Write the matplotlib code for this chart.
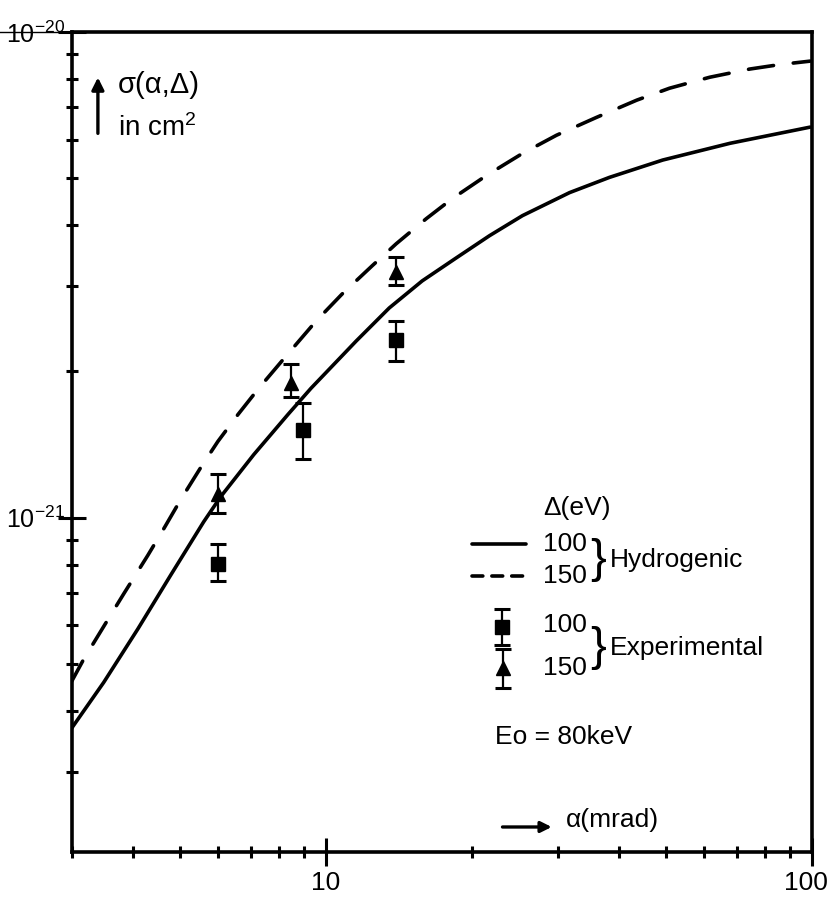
#!/usr/bin/env python3
# -*- coding: utf-8 -*-
import numpy as np
import matplotlib
matplotlib.use("Agg")
import matplotlib.pyplot as plt
import matplotlib.transforms as mtransforms
from matplotlib.ticker import LogLocator, NullFormatter

# ==================================== 数据
# 氢原子模型曲线, Δ = 100 eV (实线)
alpha_h100 = [2.98, 3.486, 4.098, 4.79, 5.60, 6.07, 7.10, 8.35, 9.31, 11.53,
              13.49, 15.77, 18.54, 21.69, 25.36, 31.7, 38.3, 49.3, 67.8, 99.1]
sigma_h100 = [3.66e-22, 4.58e-22, 5.90e-22, 7.62e-22, 9.81e-22, 1.105e-21, 1.349e-21,
              1.632e-21, 1.847e-21, 2.310e-21, 2.703e-21, 3.073e-21,
              3.428e-21, 3.807e-21, 4.187e-21, 4.67e-21, 5.02e-21, 5.45e-21,
              5.90e-21, 6.37e-21]
# 氢原子模型曲线, Δ = 150 eV (虚线)
alpha_h150 = [2.98, 3.17, 3.553, 3.833, 4.295, 4.634, 5.02, 5.525, 5.99, 6.59, 7.24,
              8.27, 9.54, 10.79, 12.44, 13.94, 16.08, 18.19, 21.38, 25.36, 29.8, 36.0,
              43.6, 50.9, 61.6, 74.5, 85.9, 99.1]
sigma_h150 = [4.56e-22, 5.11e-22, 6.16e-22, 6.97e-22, 8.36e-22, 9.49e-22, 1.089e-21,
              1.27e-21, 1.436e-21, 1.632e-21, 1.838e-21, 2.151e-21, 2.541e-21,
              2.888e-21, 3.301e-21, 3.664e-21, 4.128e-21, 4.54e-21, 5.065e-21,
              5.623e-21, 6.13e-21, 6.67e-21, 7.24e-21, 7.66e-21, 8.07e-21, 8.39e-21,
              8.57e-21, 8.71e-21]

# 实验点
alpha_exp100 = [5.99, 8.97, 13.94]
sigma_exp100 = [8.03e-22, 1.513e-21, 2.32e-21]
err_lo100 = [7.41e-22, 1.318e-21, 2.10e-21]
err_hi100 = [8.84e-22, 1.72e-21, 2.54e-21]

alpha_exp150 = [5.99, 8.47, 13.94]
sigma_exp150 = [1.121e-21, 1.89e-21, 3.21e-21]
err_lo150 = [1.023e-21, 1.77e-21, 3.01e-21]
err_hi150 = [1.233e-21, 2.07e-21, 3.44e-21]

x_ticks = [10, 100]
x_tick_labels = ['10', '100']
y_ticks = [1e-21, 1e-20]


def draw():
    plt.rcParams['font.family'] = ['Liberation Sans', 'DejaVu Sans']
    plt.rcParams['mathtext.fontset'] = 'custom'
    plt.rcParams['mathtext.rm'] = 'Liberation Sans'
    plt.rcParams['mathtext.it'] = 'Liberation Sans:italic'
    plt.rcParams['axes.unicode_minus'] = False

    fig = plt.figure(figsize=(8.31, 8.97), dpi=100)
    ax = fig.add_axes([72 / 831, 45 / 897, 740 / 831, 820 / 897])

    # 曲线
    ax.plot(alpha_h100, sigma_h100, color='black', lw=2.6, solid_capstyle='round',
            solid_joinstyle='round')
    ax.plot(alpha_h150, sigma_h150, color='black', lw=2.6, linestyle=(0, (7, 5.5)),
            dash_capstyle='round', dash_joinstyle='round')

    # 实验点 + 误差棒
    def exp_points(xs, ys, lo, hi, marker, ms):
        ys = np.array(ys)
        yerr = [ys - np.array(lo), np.array(hi) - ys]
        ax.errorbar(xs, ys, yerr=yerr, fmt=marker, color='black', ms=ms,
                    elinewidth=1.6, capsize=6, capthick=2.2, zorder=5)

    exp_points(alpha_exp100, sigma_exp100, err_lo100, err_hi100, 's', 9.5)
    exp_points(alpha_exp150, sigma_exp150, err_lo150, err_hi150, '^', 10)

    # 坐标轴
    ax.set_xscale('log')
    ax.set_yscale('log')
    ax.set_xlim(3, 100)
    ax.set_ylim(2.05e-22, 1e-20)

    ax.set_xticks(x_ticks, x_tick_labels)
    ax.set_yticks(y_ticks)
    ax.xaxis.set_minor_locator(LogLocator(base=10, subs=np.arange(2, 10)))
    ax.yaxis.set_minor_locator(LogLocator(base=10, subs=np.arange(2, 10)))
    ax.xaxis.set_minor_formatter(NullFormatter())
    ax.yaxis.set_minor_formatter(NullFormatter())
    ax.tick_params(which='major', direction='inout', length=20, width=2.2,
                   top=False, right=False)
    ax.tick_params(which='minor', direction='inout', length=9, width=2.2,
                   top=False, right=False)
    ax.tick_params(axis='x', which='major', pad=4, labelsize=19)
    ax.tick_params(axis='y', which='major', pad=-5, labelsize=18)
    for s in ax.spines.values():
        s.set_linewidth(2.6)

    # "100" 稍向左移, 避免被裁切
    fig.canvas.draw()
    lab = ax.get_xticklabels()[-1]
    lab.set_transform(lab.get_transform() +
                      mtransforms.ScaledTranslation(-6 / 100, 0, fig.dpi_scale_trans))

    # 10^-20 处的横线
    ax.plot([-0.097, 0], [1, 1], transform=ax.transAxes, color='black', lw=1.0,
            clip_on=False)

    # 纵轴说明
    ax.annotate('', xy=(0.035, 0.948), xytext=(0.035, 0.873), xycoords='axes fraction',
                arrowprops=dict(arrowstyle='-|>', color='black', lw=2.4,
                                mutation_scale=18))
    ax.text(0.062, 0.935, 'σ(α,Δ)', transform=ax.transAxes, fontsize=21,
            ha='left', va='center')
    ax.text(0.062, 0.883, 'in cm$^2$', transform=ax.transAxes, fontsize=20,
            ha='left', va='center')

    # 图例 (手绘风格)
    fs = 19
    ax.text(0.682, 0.420, 'Δ(eV)', transform=ax.transAxes, fontsize=fs,
            ha='center', va='center')
    ax.plot([0.541, 0.614], [0.3756, 0.3756], transform=ax.transAxes, color='black',
            lw=2.6, solid_capstyle='round')
    ax.plot([0.541, 0.614], [0.3366, 0.3366], transform=ax.transAxes, color='black',
            lw=2.6, linestyle=(0, (3, 2.5)), dash_capstyle='round')
    ax.text(0.636, 0.3756, '100', transform=ax.transAxes, fontsize=fs,
            ha='left', va='center')
    ax.text(0.636, 0.3366, '150', transform=ax.transAxes, fontsize=fs,
            ha='left', va='center')
    ax.text(0.700, 0.356, '}', transform=ax.transAxes, fontsize=34,
            ha='left', va='center')
    ax.text(0.727, 0.356, 'Hydrogenic', transform=ax.transAxes, fontsize=fs,
            ha='left', va='center')

    ax.errorbar([0.581], [0.274], yerr=[[0.022], [0.022]], fmt='s', color='black',
                ms=9.5, elinewidth=1.6, capsize=6, capthick=2.2,
                transform=ax.transAxes, clip_on=False)
    ax.errorbar([0.582], [0.224], yerr=[[0.024], [0.024]], fmt='^', color='black',
                ms=10, elinewidth=1.6, capsize=6, capthick=2.2,
                transform=ax.transAxes, clip_on=False)
    ax.text(0.636, 0.277, '100', transform=ax.transAxes, fontsize=fs,
            ha='left', va='center')
    ax.text(0.636, 0.224, '150', transform=ax.transAxes, fontsize=fs,
            ha='left', va='center')
    ax.text(0.700, 0.249, '}', transform=ax.transAxes, fontsize=34,
            ha='left', va='center')
    ax.text(0.727, 0.249, 'Experimental', transform=ax.transAxes, fontsize=fs,
            ha='left', va='center')

    ax.text(0.572, 0.140, 'Eo = 80keV', transform=ax.transAxes, fontsize=fs,
            ha='left', va='center')

    # 横轴说明
    ax.annotate('', xy=(0.652, 0.0305), xytext=(0.578, 0.0305), xycoords='axes fraction',
                arrowprops=dict(arrowstyle='-|>', color='black', lw=2.4,
                                mutation_scale=16))
    ax.text(0.668, 0.039, 'α(mrad)', transform=ax.transAxes, fontsize=fs,
            ha='left', va='center')

    fig.savefig('out.png', dpi=100)


def main():
    draw()


if __name__ == "__main__":
    main()
